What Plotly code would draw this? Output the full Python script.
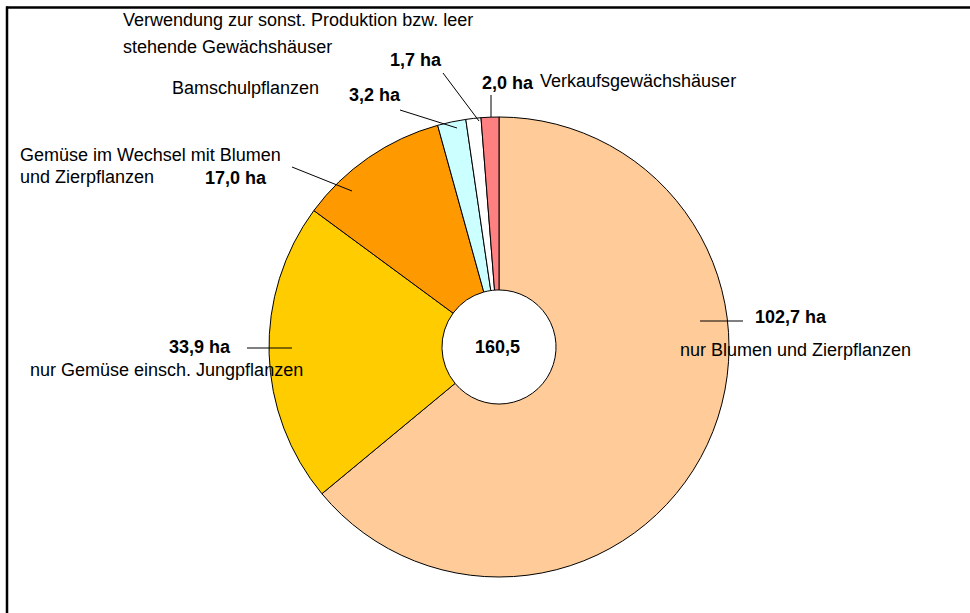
import plotly.graph_objects as go

# ---- data ----
categories = [
    "nur Blumen und Zierpflanzen",
    "nur Gemüse einsch. Jungpflanzen",
    "Gemüse im Wechsel mit Blumen und Zierpflanzen",
    "Bamschulpflanzen",
    "Verwendung zur sonst. Produktion bzw. leer stehende Gewächshäuser",
    "Verkaufsgewächshäuser",
]
values = [102.7, 33.9, 17.0, 3.2, 1.7, 2.0]
value_labels = ["102,7 ha", "33,9 ha", "17,0 ha", "3,2 ha", "1,7 ha", "2,0 ha"]
total_label = "160,5"
colors = ["#FFCC99", "#FFCC00", "#FF9900", "#CCFFFF", "#FFFFFF", "#FF8080"]

W, H = 970, 613
FONT = "Liberation Sans, Arial, sans-serif"
FS = 18


def px(x):
    return x / W


def py(y):
    return 1 - y / H


cx, cy, r = 499, 347, 230

fig = go.Figure()
fig.add_trace(go.Pie(
    labels=categories,
    values=values,
    sort=False,
    direction="clockwise",
    rotation=0,
    hole=0.248,
    marker=dict(colors=colors, line=dict(color="black", width=1)),
    textinfo="none",
    hoverinfo="label+value",
    showlegend=False,
    domain=dict(x=[px(cx - r), px(cx + r)], y=[py(cy + r), py(cy - r)]),
))

annotations = []


def txt(text, x, y, bold=False, anchor="left"):
    annotations.append(dict(
        text=("<b>%s</b>" % text) if bold else text,
        x=px(x), y=py(y), xref="paper", yref="paper",
        xanchor=anchor, yanchor="middle", showarrow=False,
        font=dict(family=FONT, size=FS, color="black"),
    ))


# category names and values
txt("Verwendung zur sonst. Produktion bzw. leer", 121, 20)
txt("stehende Gewächshäuser", 121, 47)
txt(value_labels[4], 388, 60, bold=True)
txt(categories[3], 170, 88)
txt(value_labels[3], 347, 95, bold=True)
txt(value_labels[5], 480, 83, bold=True)
txt(categories[5], 538, 81)
txt("Gemüse im Wechsel mit Blumen", 18, 155)
txt("und Zierpflanzen", 18, 177)
txt(value_labels[2], 203, 178, bold=True)
txt(value_labels[1], 167, 347, bold=True)
txt(categories[1], 28, 370)
txt(value_labels[0], 753, 317, bold=True)
txt(categories[0], 678, 350)
txt(total_label, 498, 347, bold=True, anchor="center")

shapes = []


def seg(x0, y0, x1, y1, w=1, color="black"):
    shapes.append(dict(type="line", xref="paper", yref="paper",
                       x0=px(x0), y0=py(y0), x1=px(x1), y1=py(y1),
                       line=dict(color=color, width=w)))


# leader lines
seg(443, 73, 479, 121)
seg(400, 110, 457, 128)
seg(491, 95, 491, 117)
seg(292, 167, 352, 191)
seg(247, 348, 292, 348)
seg(700, 321, 743, 321)
# frame
seg(6, 7.5, 970, 7.5, w=2.5)
seg(7, 6.5, 7, 613, w=2.5)

fig.update_layout(
    width=W, height=H,
    margin=dict(l=0, r=0, t=0, b=0),
    paper_bgcolor="white", plot_bgcolor="white",
    annotations=annotations, shapes=shapes,
)

fig.write_html(
    "out.html",
    config={"displayModeBar": False},
    post_script="document.body.style.margin='0';document.body.style.padding='0';",
)
